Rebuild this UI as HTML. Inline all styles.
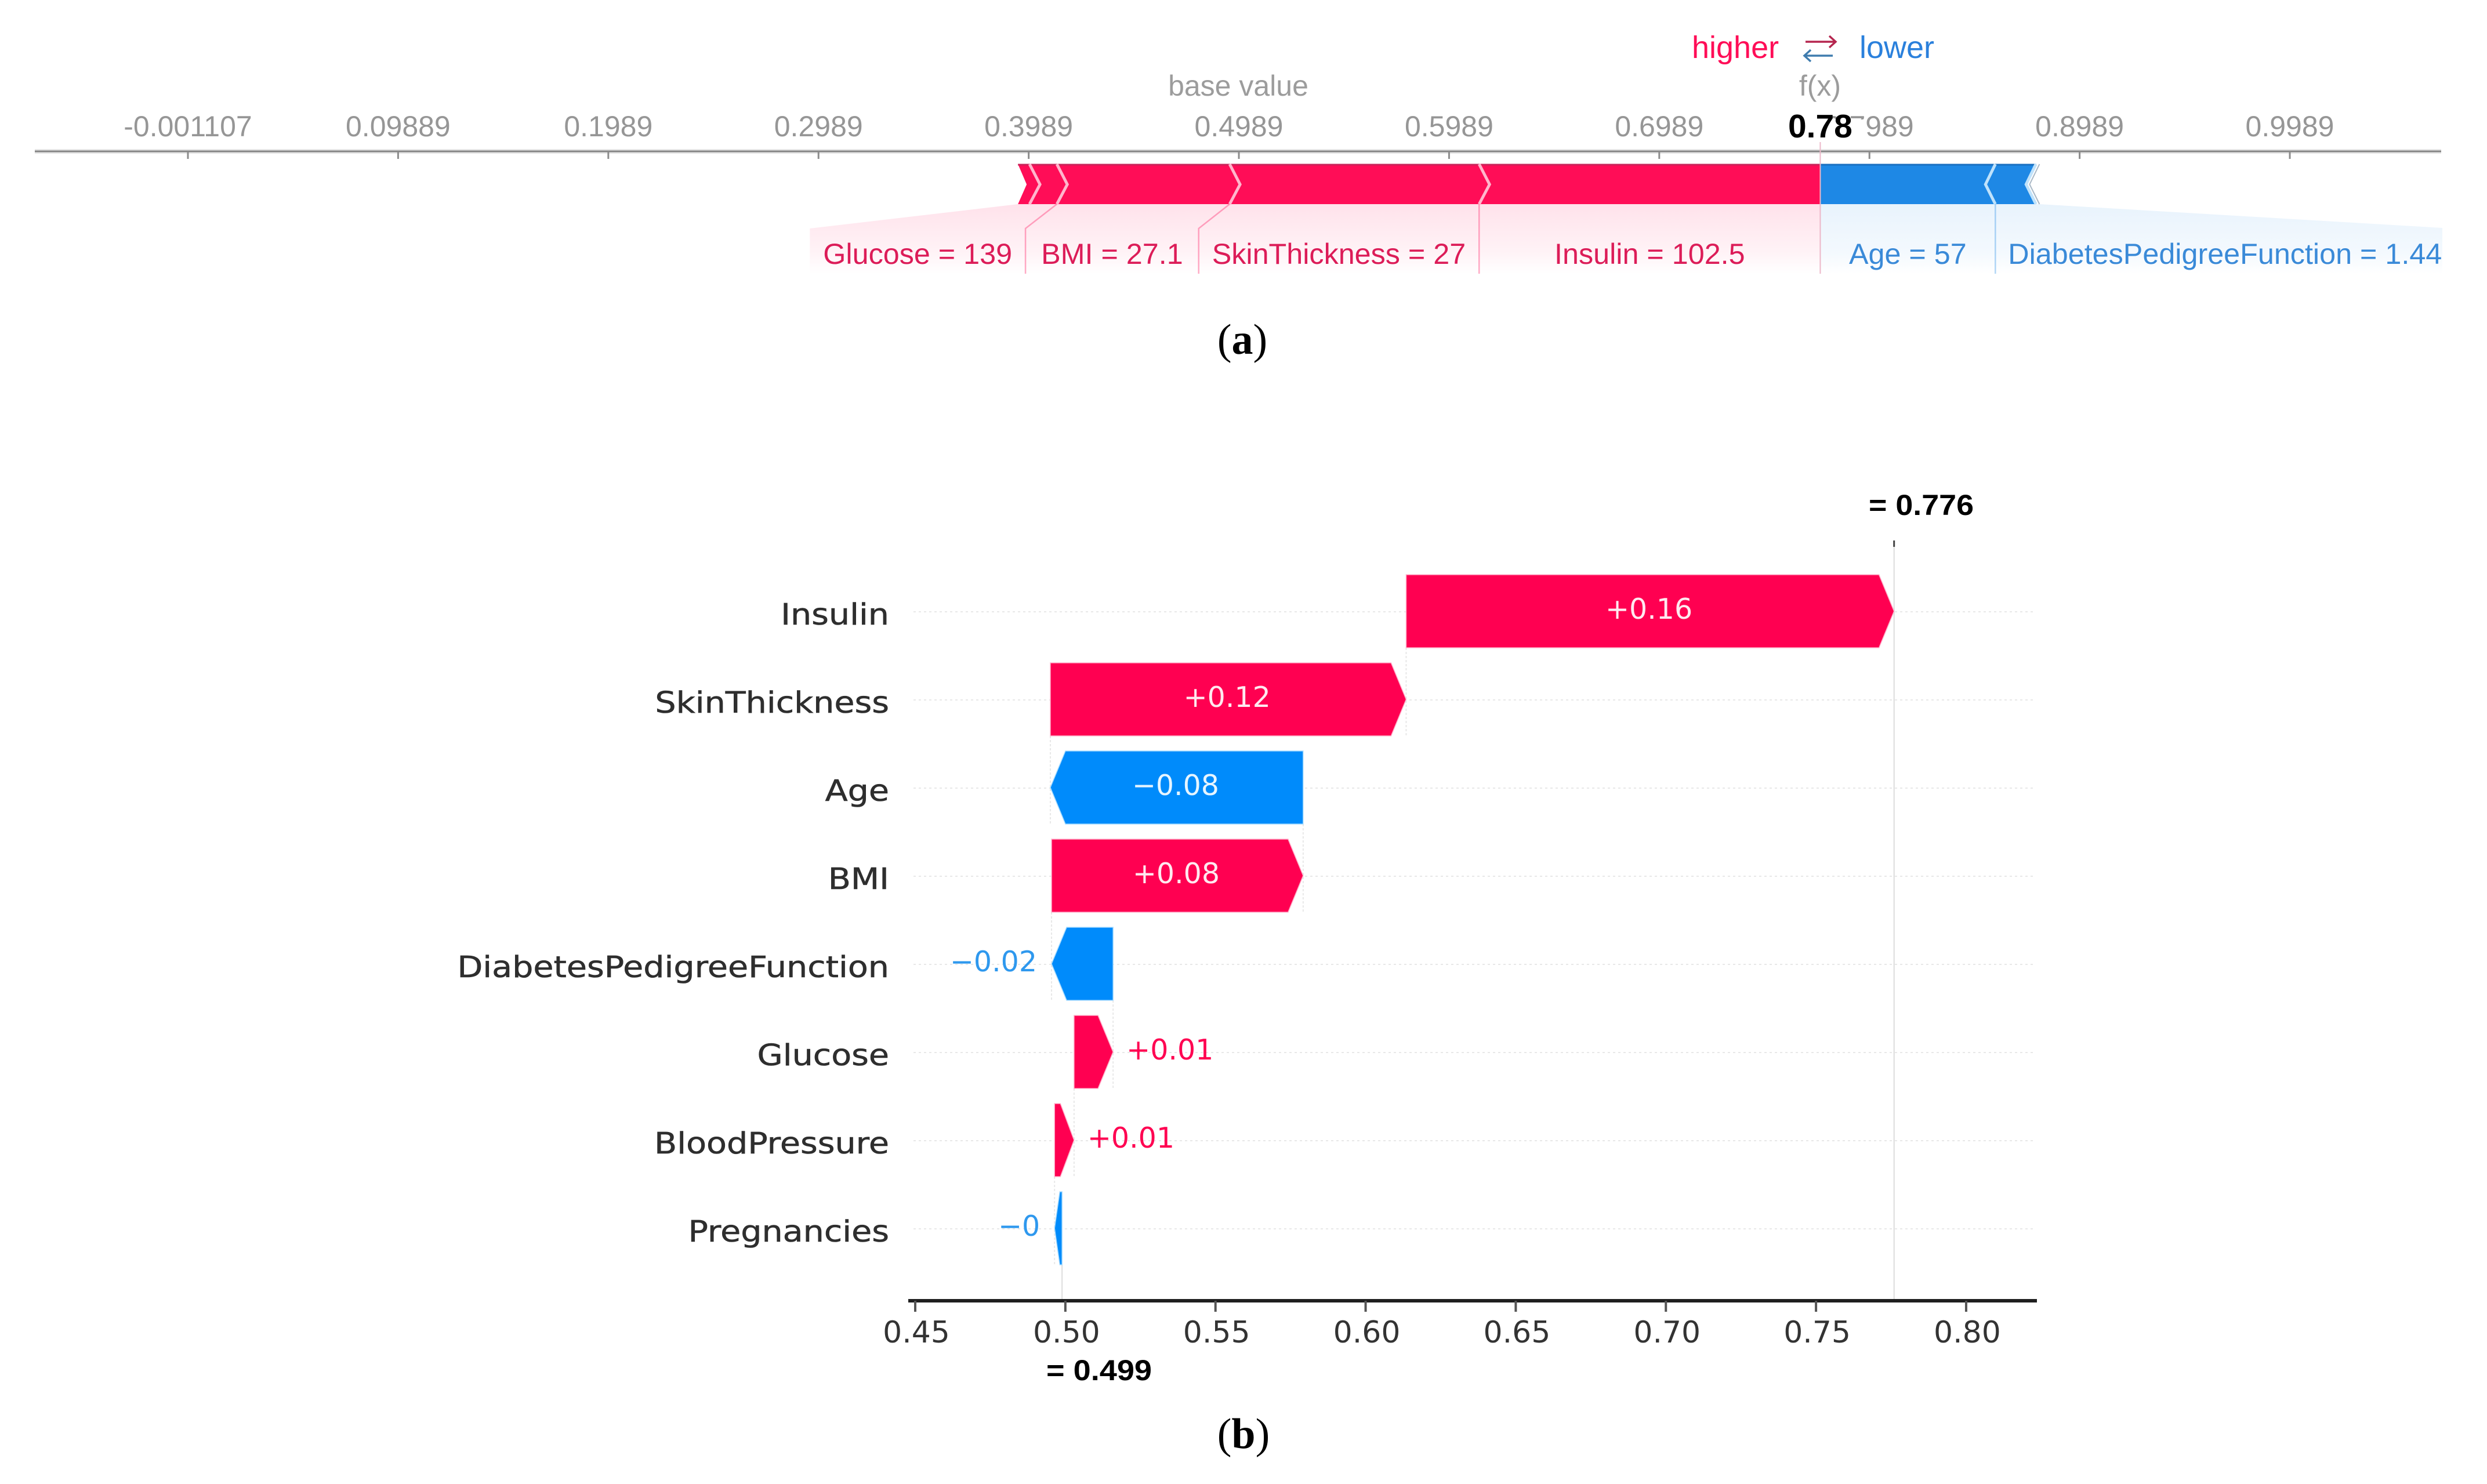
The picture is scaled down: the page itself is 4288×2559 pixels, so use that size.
<!DOCTYPE html>
<html lang="en">
<head>
<meta charset="utf-8">
<title>SHAP force and waterfall plots</title>
<style>
html,body{margin:0;padding:0;background:#fff;}
svg{display:block;}
text{font-family:"Liberation Sans",sans-serif;}
.dj{font-family:"DejaVu Sans",sans-serif;}
.cap{font-family:"Liberation Serif",serif;font-size:74px;fill:#000;text-anchor:middle;}
</style>
</head>
<body>
<svg id="fig" xmlns="http://www.w3.org/2000/svg" width="4288" height="2559" viewBox="0 0 4288 2559">
  <rect x="0" y="0" width="4288" height="2559" fill="#ffffff"/>
  <defs>
    <linearGradient id="redFade" x1="0" y1="352" x2="0" y2="472" gradientUnits="userSpaceOnUse">
      <stop offset="0" stop-color="#ff0d57" stop-opacity="0.12"/>
      <stop offset="0.7" stop-color="#ff0d57" stop-opacity="0.05"/>
      <stop offset="1" stop-color="#ff0d57" stop-opacity="0"/>
    </linearGradient>
    <linearGradient id="blueFade" x1="0" y1="352" x2="0" y2="472" gradientUnits="userSpaceOnUse">
      <stop offset="0" stop-color="#1e88e5" stop-opacity="0.10"/>
      <stop offset="0.7" stop-color="#1e88e5" stop-opacity="0.05"/>
      <stop offset="1" stop-color="#1e88e5" stop-opacity="0"/>
    </linearGradient>
    <clipPath id="forceClip"><rect x="0" y="340" width="4211" height="160"/></clipPath>
  </defs>

  <text x="2917" y="100" font-size="54" fill="#ff0d57">higher</text>
  <text x="3206" y="100" font-size="54" fill="#2a80dc">lower</text>
  <g fill="none" stroke-width="3.5">
    <path d="M3113 72H3164M3154 62L3165 72L3154 82" stroke="#b5264f"/>
    <path d="M3160 96H3112M3122 86L3111 96L3122 106" stroke="#3f7cae"/>
  </g>
  <text x="2135" y="165" font-size="50" fill="#9c9c9c" text-anchor="middle">base value</text>
  <text x="3138" y="165" font-size="50" fill="#9c9c9c" text-anchor="middle">f(x)</text>

  <g id="force"></g>

  <text class="cap" x="2142" y="610">(<tspan font-weight="bold">a</tspan>)</text>

  <g id="waterfall"></g>

  <text x="3222" y="888" font-size="50" font-weight="bold" fill="#000" textLength="181" lengthAdjust="spacingAndGlyphs">= 0.776</text>
  <text x="1804" y="2380" font-size="50" font-weight="bold" fill="#000" textLength="182" lengthAdjust="spacingAndGlyphs">= 0.499</text>
  <text class="cap" x="2144" y="2497">(<tspan font-weight="bold">b</tspan>)</text>
</svg>
<script>
/* ---------- force plot data ---------- */
const forceTicks = [-0.001107, 0.09889, 0.1989, 0.2989, 0.3989, 0.4989, 0.5989, 0.6989, 0.7989, 0.8989, 0.9989];
const forceTickLabels = ["-0.001107", "0.09889", "0.1989", "0.2989", "0.3989", "0.4989", "0.5989", "0.6989", "0.7989", "0.8989", "0.9989"];
const forceOutput = 0.7755;
const forceOutputLabel = "0.78";
const forceRedNames = ["Insulin", "SkinThickness", "BMI", "Glucose", "BloodPressure"];
const forceRedValues = [0.1623, 0.1187, 0.0822, 0.013, 0.0055];
const forceRedLabels = ["Insulin = 102.5", "SkinThickness = 27", "BMI = 27.1", "Glucose = 139", ""];
const forceBlueNames = ["Age", "DiabetesPedigreeFunction", "Pregnancies"];
const forceBlueValues = [0.0833, 0.0193, 0.0017];
const forceBlueLabels = ["Age = 57", "DiabetesPedigreeFunction = 1.44", ""];

/* ---------- waterfall data ---------- */
const waterfallFeatures = ["Insulin", "SkinThickness", "Age", "BMI", "DiabetesPedigreeFunction", "Glucose", "BloodPressure", "Pregnancies"];
const waterfallValues = [0.1625, 0.1185, -0.0842, 0.0838, -0.0205, 0.013, 0.0065, -0.0025];
const waterfallValueLabels = ["+0.16", "+0.12", "\u22120.08", "+0.08", "\u22120.02", "+0.01", "+0.01", "\u22120"];
const waterfallOutput = 0.776;
const waterfallTicks = [0.45, 0.5, 0.55, 0.6, 0.65, 0.7, 0.75, 0.8];
const waterfallTickLabels = ["0.45", "0.50", "0.55", "0.60", "0.65", "0.70", "0.75", "0.80"];

const NS = "http://www.w3.org/2000/svg";
function make(parent, tag, attrs, txt) {
  const el = document.createElementNS(NS, tag);
  for (const k in attrs) el.setAttribute(k, attrs[k]);
  if (txt !== undefined) el.textContent = txt;
  parent.appendChild(el);
  return el;
}
function slug(s) { return s.replace(/([a-z])([A-Z])/g, "$1-$2").toLowerCase(); }

/* ========== FORCE PLOT ========== */
(function () {
  const g = document.getElementById("force");
  const fx = v => 324 + (v + 0.001107) * 3624;
  const top = 283, bot = 352, mid = 318, axisY = 261;
  const labelSize = 50.3;
  const plotRight = 4211;
  let el;

  el = make(g, "line", { x1: 60, x2: 4209, y1: axisY, y2: axisY, stroke: "#e6e6e6", "stroke-width": 8 });
  
  
  el = make(g, "line", { x1: 60, x2: 4209, y1: axisY, y2: axisY, stroke: "#858585", "stroke-width": 3 });
  
  

  forceTicks.forEach((t, i) => {
    const x = fx(t);
    const tick = make(g, "line", { x1: x, x2: x, y1: axisY, y2: 274, stroke: "#8c8c8c", "stroke-width": 3 });
    
    
    const lab = make(g, "text", { x: x, y: 235, "font-size": 50, fill: "#969696", "text-anchor": "middle" }, forceTickLabels[i]);
    
    
  });

  /* output label with white box hiding the tick label underneath */
  const ox = fx(forceOutput);
  el = make(g, "rect", { x: ox - 55, y: 206, width: 131, height: 40, fill: "#ffffff" });
  
  
  el = make(g, "text", { x: ox, y: 237, "font-size": 57, "font-weight": "bold", fill: "#000", "text-anchor": "middle" }, forceOutputLabel);
  
  

  /* boundaries */
  const redEdges = [];
  let pos = forceOutput;
  forceRedValues.forEach(v => { pos -= v; redEdges.push(fx(pos)); });
  const blueEdges = [];
  pos = forceOutput;
  forceBlueValues.forEach(v => { pos += v; blueEdges.push(fx(pos)); });
  const L = redEdges[redEdges.length - 1];
  const R = blueEdges[blueEdges.length - 1];
  const O = ox;

  /* label layout: each label box runs leftwards / rightwards from the previous one */
  const measure = s => {
    const t = make(g, "text", { x: 0, y: -100, "font-size": labelSize }, s);
    const w = t.getComputedTextLength();
    g.removeChild(t);
    return w;
  };
  const pad = 46;
  const shortLabelExtra = 8;
  const redLabelEdges = [];
  let edge = O;
  forceRedLabels.forEach((s, i) => {
    if (!s) { redLabelEdges.push(null); return; }
    const textW = measure(s);
    const extra = textW < 300 ? shortLabelExtra : 0;
    const left = Math.min(redEdges[i], edge - textW - pad - extra);
    redLabelEdges.push({ l: left, r: edge });
    edge = left;
  });
  const shadeLeft = edge;
  const blueLabelEdges = [];
  edge = O;
  forceBlueLabels.forEach((s, i) => {
    if (!s) { blueLabelEdges.push(null); return; }
    const right = Math.max(blueEdges[i], edge + measure(s) + pad);
    blueLabelEdges.push({ l: edge, r: right });
    edge = right;
  });

  /* shaded regions */
  el = make(g, "polygon", { points: `${L},${bot} ${O},${bot} ${O},472 ${shadeLeft},472 ${shadeLeft},394`, fill: "url(#redFade)" });
  
  
  el = make(g, "polygon", { points: `${O},${bot} ${R},${bot} ${plotRight},393 ${plotRight},472 ${O},472`, fill: "url(#blueFade)" });
  
  

  /* bars */
  el = make(g, "polygon", { points: `${L},${top} ${O},${top} ${O},${bot} ${L},${bot} ${L + 15},${mid}`, fill: "#ff0d57" });
  
  
  el = make(g, "polygon", { points: `${O},${top} ${R - 6},${top} ${R - 21},${mid} ${R - 6},${bot} ${O},${bot}`, fill: "#1e88e5" });
  
  
  el = make(g, "line", { x1: L, x2: O, y1: top + 1, y2: top + 1, stroke: "#c9245a", "stroke-width": 3 });
  
  
  el = make(g, "line", { x1: O, x2: R - 6, y1: top + 1, y2: top + 1, stroke: "#1a6fc0", "stroke-width": 3 });
  
  

  /* chevrons */
  redEdges.slice(0, -1).forEach((x, i) => {
    const c = make(g, "polyline", { points: `${x},${top} ${x + 18},${mid} ${x},${bot}`, fill: "none", stroke: "#ffb6cd", "stroke-width": 5 });
    
    
  });
  blueEdges.forEach((x, i) => {
    const isLast = i === blueEdges.length - 1;
    const c = make(g, "polyline", { points: `${x},${top} ${x - 17},${mid} ${x},${bot}`, fill: "none", stroke: isLast ? "#a9b8c6" : "#bfe2fb", "stroke-width": isLast ? 2 : 5 });
    
    
  });

  /* connector lines and labels */
  forceRedLabels.forEach((s, i) => {
    if (!s) return;
    const box = redLabelEdges[i];
    if (i < forceRedLabels.length - 2) {
      const c = make(g, "polyline", { points: `${redEdges[i]},${bot} ${box.l},394 ${box.l},472`, fill: "none", stroke: "#ff0d57", "stroke-opacity": 0.34, "stroke-width": 2.5 });
      
      
    }
    const t = make(g, "text", { x: (box.l + box.r) / 2, y: 455, "font-size": labelSize, fill: "#dc1c58", "text-anchor": "middle" }, s);
    
    
  });
  el = make(g, "line", { x1: O, x2: O, y1: 245, y2: 472, stroke: "#ecb7c8", "stroke-width": 2 });
  
  
  forceBlueLabels.forEach((s, i) => {
    if (!s) return;
    const box = blueLabelEdges[i];
    if (i === 0) {
      const c = make(g, "line", { x1: blueEdges[i], x2: blueEdges[i], y1: bot, y2: 472, stroke: "#1e88e5", "stroke-opacity": 0.34, "stroke-width": 2.5 });
      
      
    }
    const anchorLeft = box.r > plotRight;
    const t = make(g, "text", { x: anchorLeft ? box.l + 22 : (box.l + box.r) / 2, y: 455, "font-size": labelSize, fill: "#3a8ad8", "text-anchor": anchorLeft ? "start" : "middle", "clip-path": "url(#forceClip)" }, s);
    
    
  });
})();

/* ========== WATERFALL ========== */
(function () {
  const g = document.getElementById("waterfall");
  const RED = "#ff0051", BLUE = "#008bfb";
  const xs = v => 1578 + (v - 0.45) * 5177;
  const ys = i => 1054 + 152 * i;
  const halfH = 63, axisY = 2243;
  let el;

  /* spans from cumulative sum, top row downward */
  let pos = waterfallOutput;
  const spans = waterfallValues.map(v => {
    const end = pos, start = pos - v;
    pos = start;
    return { start, end };
  });
  const base = pos;

  /* gridlines */
  waterfallFeatures.forEach((f, i) => {
    const ln = make(g, "line", { x1: 1575, x2: 3505, y1: ys(i) + 1, y2: ys(i) + 1, stroke: "#e8e8e8", "stroke-width": 2, "stroke-dasharray": "4 5" });
    
    
  });

  /* final / base reference lines */
  el = make(g, "line", { x1: xs(waterfallOutput), x2: xs(waterfallOutput), y1: 932, y2: axisY, stroke: "#dcdcdc", "stroke-width": 2 });
  
  
  el = make(g, "line", { x1: xs(waterfallOutput), x2: xs(waterfallOutput), y1: 932, y2: 943, stroke: "#444", "stroke-width": 3 });
  
  
  el = make(g, "line", { x1: xs(base), x2: xs(base), y1: ys(waterfallFeatures.length - 1) + halfH, y2: axisY, stroke: "#dcdcdc", "stroke-width": 2 });
  
  

  /* row connectors */
  spans.slice(0, -1).forEach((s, i) => {
    const x = xs(s.start);
    const c = make(g, "line", { x1: x, x2: x, y1: ys(i) + halfH, y2: ys(i + 1) + halfH, stroke: "#e8e8e8", "stroke-width": 2, "stroke-dasharray": "4 3" });
    
    
  });

  /* bars and labels */
  waterfallFeatures.forEach((f, i) => {
    const v = waterfallValues[i];
    const s = spans[i];
    const y = ys(i);
    const x0 = xs(s.start), x1 = xs(s.end);
    const w = Math.abs(x1 - x0);
    const h = Math.min(26, w * 0.7);
    const dir = v >= 0 ? 1 : -1;
    const pts = [
      [x0, y - halfH], [x1 - dir * h, y - halfH], [x1, y], [x1 - dir * h, y + halfH], [x0, y + halfH]
    ].map(p => p.join(",")).join(" ");
    const col = v >= 0 ? RED : BLUE;
    const bar = make(g, "polygon", { points: pts, fill: col, stroke: v >= 0 ? "#ffb3cc" : "#a8dcff", "stroke-width": 1.5 });
    
    

    const inside = Math.abs(v) > 0.05;
    const attrs = { y: y + 13, "font-size": 49, class: "dj" };
    if (inside) {
      attrs.x = (x0 + x1) / 2 - 2;
      attrs["text-anchor"] = "middle";
      attrs.fill = "#ffe9f0";
      if (v < 0) attrs.fill = "#e6f5ff";
    } else if (v >= 0) {
      attrs.x = x1 + 23;
      attrs["text-anchor"] = "start";
      attrs.fill = RED;
    } else {
      attrs.x = x1 - 25;
      attrs["text-anchor"] = "end";
      attrs.fill = "#2e98ee";
    }
    const val = make(g, "text", attrs, waterfallValueLabels[i]);
    
    

    const lab = make(g, "text", { x: 0, y: 0, class: "dj", "font-size": 51, fill: "#2e2e2e", stroke: "#2e2e2e", "stroke-width": 0.6, "text-anchor": "end", transform: `translate(1533 ${y + 23}) scale(1.12 1)` }, f);
    
    
  });

  /* x axis */
  el = make(g, "line", { x1: 1566, x2: 3512, y1: axisY, y2: axisY, stroke: "#1f1f1f", "stroke-width": 6 });
  
  
  waterfallTicks.forEach((t, i) => {
    const x = xs(t);
    const tick = make(g, "line", { x1: x, x2: x, y1: axisY, y2: 2262, stroke: "#555", "stroke-width": 4 });
    
    
    const lab = make(g, "text", { x: x + 2, y: 2315, class: "dj", "font-size": 52, fill: "#333333", "text-anchor": "middle" }, waterfallTickLabels[i]);
    
    
  });
})();
</script>
</body>
</html>
